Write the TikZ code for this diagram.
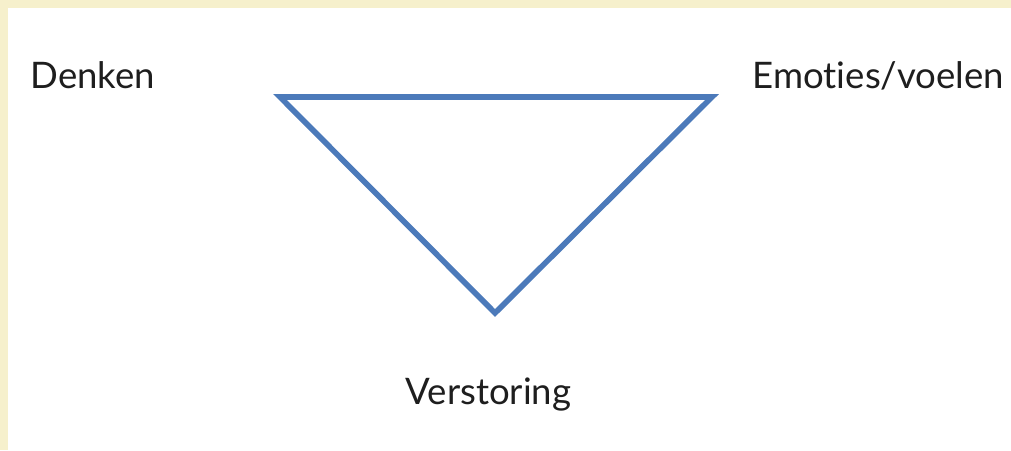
\documentclass[tikz,border=0pt]{standalone}
\usepackage{fontspec}
\setmainfont[Ligatures={NoCommon,NoRare}]{Lato}
\usetikzlibrary{positioning}

\definecolor{paper}{RGB}{246,240,204}
\definecolor{lineblue}{RGB}{76,122,186}
\definecolor{textgray}{RGB}{30,30,30}

\begin{document}
\begin{tikzpicture}[
  label/.style={
    anchor=base west,
    inner sep=0pt,
    text=textgray,
    font=\fontsize{10.4}{12}\selectfont
  },
  triangle/.style={
    draw=lineblue,
    line width=1.6pt,
    line join=miter
  }
]

\useasboundingbox (0,0) rectangle (10.11,4.50);
\fill[paper] (0,0) rectangle (10.11,4.50);
\fill[white] (0.08,0) rectangle (10.11,4.42);

\node[label] (denken)     at (0.30,3.62) {Denken};
\node[label] (emoties)    at (7.52,3.62) {Emot\kern0pt ies/voelen};
\node[label] (verstoring) at (4.05,0.46) {Verstoring};

\coordinate (links)  at (2.80,3.53);
\coordinate (rechts) at (7.12,3.53);
\coordinate (onder)  at (4.95,1.37);

\draw[triangle] (links) -- (rechts) -- (onder) -- cycle;

\end{tikzpicture}
\end{document}
